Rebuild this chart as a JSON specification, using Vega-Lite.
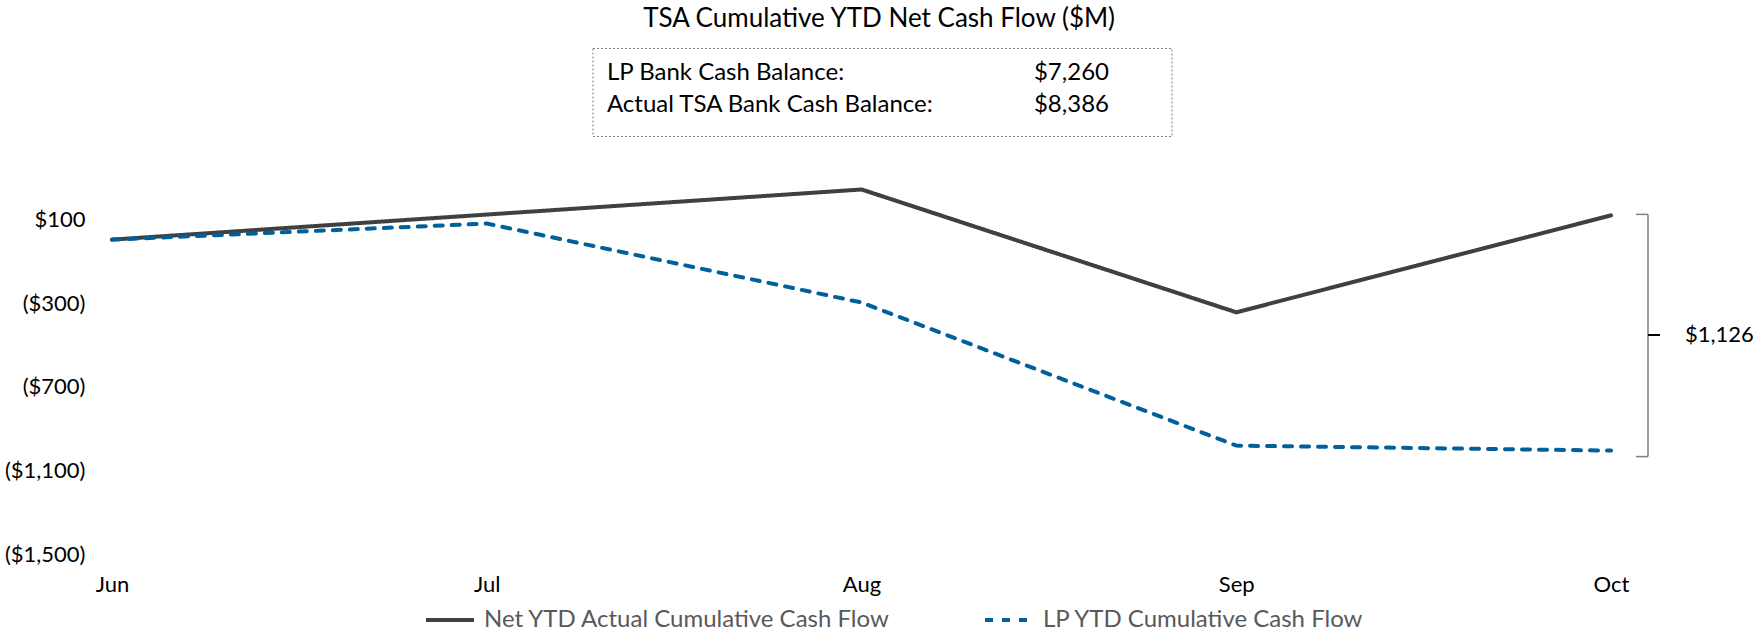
{
  "$schema": "https://vega.github.io/schema/vega-lite/v6.json",
  "background": "white",
  "padding": {"left": 4, "top": 5, "right": 0, "bottom": 0},
  "config": {
    "font": "Lato",
    "view": {"stroke": null},
    "text": {"font": "Lato"}
  },
  "title": {
    "text": "TSA Cumulative YTD Net Cash Flow ($M)",
    "font": "Lato",
    "fontSize": 26,
    "fontWeight": "normal",
    "color": "black",
    "anchor": "middle",
    "offset": 16
  },
  "center": true,
  "bounds": "flush",
  "spacing": 42,
  "resolve": {"legend": {"color": "independent", "strokeDash": "independent"}},
  "vconcat": [
    {
      "width": 579,
      "height": 88,
      "view": {"stroke": "#7f7f7f", "strokeDash": [2, 2], "strokeWidth": 1},
      "data": {
        "values": [
          {"label": "LP Bank Cash Balance:", "amount": 7260},
          {"label": "Actual TSA Bank Cash Balance:", "amount": 8386}
        ]
      },
      "layer": [
        {
          "mark": {"type": "text", "align": "left", "baseline": "middle", "fontSize": 24, "color": "black", "dy": -3},
          "encoding": {
            "x": {"datum": "name", "type": "nominal", "scale": {"type": "point", "domain": ["name", "amount"], "padding": 0.178, "align": 0.095}, "axis": null},
            "y": {"field": "label", "type": "nominal", "sort": null, "scale": {"type": "point", "padding": 0.858}, "axis": null},
            "text": {"field": "label", "type": "nominal"}
          }
        },
        {
          "mark": {"type": "text", "align": "left", "baseline": "middle", "fontSize": 24, "color": "black", "dy": -3},
          "encoding": {
            "x": {"datum": "amount", "type": "nominal", "axis": null},
            "y": {"field": "label", "type": "nominal", "sort": null, "axis": null},
            "text": {"field": "amount", "type": "quantitative", "format": "$,"}
          }
        }
      ]
    },
    {
      "width": 1540,
      "height": 376,
      "data": {
        "values": [
          {"month": "Jun", "series": "Net YTD Actual Cumulative Cash Flow", "value": 5},
          {"month": "Jul", "series": "Net YTD Actual Cumulative Cash Flow", "value": 125},
          {"month": "Aug", "series": "Net YTD Actual Cumulative Cash Flow", "value": 245},
          {"month": "Sep", "series": "Net YTD Actual Cumulative Cash Flow", "value": -343},
          {"month": "Oct", "series": "Net YTD Actual Cumulative Cash Flow", "value": 121},
          {"month": "Jun", "series": "LP YTD Cumulative Cash Flow", "value": 5},
          {"month": "Jul", "series": "LP YTD Cumulative Cash Flow", "value": 82},
          {"month": "Aug", "series": "LP YTD Cumulative Cash Flow", "value": -296},
          {"month": "Sep", "series": "LP YTD Cumulative Cash Flow", "value": -981},
          {"month": "Oct", "series": "LP YTD Cumulative Cash Flow", "value": -1005}
        ]
      },
      "layer": [
        {
          "mark": {"type": "line", "strokeWidth": 4, "strokeCap": "round", "strokeJoin": "miter"},
          "encoding": {
            "x": {
              "field": "month", "type": "ordinal", "title": null,
              "scale": {"type": "point", "padding": 0.0547, "align": 0, "domain": ["Jun", "Jul", "Aug", "Sep", "Oct"]},
              "axis": {"labelAngle": 0, "domain": false, "ticks": false, "tickSize": 0, "grid": false, "labelPadding": 20, "labelFontSize": 22, "labelColor": "black", "labelFont": "Lato"}
            },
            "y": {
              "field": "value", "type": "quantitative", "title": null,
              "scale": {"domain": [-1500, 300], "nice": false, "zero": false},
              "axis": {
                "values": [100, -300, -700, -1100, -1500],
                "labelExpr": "datum.value < 0 ? '($' + format(-datum.value, ',') + ')' : '$' + format(datum.value, ',')",
                "domain": false, "ticks": false, "tickSize": 0, "grid": false,
                "labelPadding": 27, "labelFontSize": 22, "labelColor": "black", "labelFont": "Lato"
              }
            },
            "color": {
              "field": "series", "type": "nominal",
              "scale": {"domain": ["Net YTD Actual Cumulative Cash Flow", "LP YTD Cumulative Cash Flow"], "range": ["#404040", "#00609C"]},
              "legend": {"orient": "none", "legendX": 312, "legendY": 416, "direction": "horizontal", "title": null, "symbolType": "stroke", "symbolSize": 2304, "symbolStrokeWidth": 4, "labelFontSize": 24, "labelColor": "#595959", "labelFont": "Lato", "labelLimit": 0, "columnPadding": 86, "labelOffset": 8, "padding": 0}
            },
            "strokeDash": {
              "field": "series", "type": "nominal",
              "scale": {"domain": ["Net YTD Actual Cumulative Cash Flow", "LP YTD Cumulative Cash Flow"], "range": [[1, 0], [8, 9]]},
              "legend": {"orient": "none", "legendX": 312, "legendY": 416, "direction": "horizontal", "title": null, "symbolType": "stroke", "symbolSize": 2304, "symbolStrokeWidth": 4, "labelFontSize": 24, "labelColor": "#595959", "labelFont": "Lato", "labelLimit": 0, "columnPadding": 86, "labelOffset": 8, "padding": 0}
            }
          }
        },
        {
          "transform": [
            {"filter": "datum.month === 'Oct'"},
            {"aggregate": [
              {"op": "max", "field": "value", "as": "hi"},
              {"op": "min", "field": "value", "as": "lo"},
              {"op": "mean", "field": "value", "as": "mid"}
            ], "groupby": ["month"]}
          ],
          "layer": [
            {
              "mark": {"type": "rule", "color": "#7f7f7f", "strokeWidth": 1.5, "xOffset": 37, "yOffset": -1, "y2Offset": 6},
              "encoding": {
                "x": {"field": "month", "type": "ordinal", "title": null},
                "y": {"field": "hi", "type": "quantitative", "title": null},
                "y2": {"field": "lo"}
              }
            },
            {
              "mark": {"type": "rule", "color": "#7f7f7f", "strokeWidth": 1.5, "xOffset": 25, "x2Offset": 37, "yOffset": -1},
              "encoding": {
                "x": {"field": "month", "type": "ordinal", "title": null},
                "x2": {"field": "month"},
                "y": {"field": "hi", "type": "quantitative", "title": null}
              }
            },
            {
              "mark": {"type": "rule", "color": "#7f7f7f", "strokeWidth": 1.5, "xOffset": 25, "x2Offset": 37, "yOffset": 6},
              "encoding": {
                "x": {"field": "month", "type": "ordinal", "title": null},
                "x2": {"field": "month"},
                "y": {"field": "lo", "type": "quantitative", "title": null}
              }
            },
            {
              "mark": {"type": "rule", "color": "black", "strokeWidth": 2, "xOffset": 37, "x2Offset": 49, "yOffset": 2},
              "encoding": {
                "x": {"field": "month", "type": "ordinal", "title": null},
                "x2": {"field": "month"},
                "y": {"field": "mid", "type": "quantitative", "title": null}
              }
            },
            {
              "mark": {"type": "text", "align": "left", "baseline": "middle", "fontSize": 22, "color": "black", "dx": 74, "dy": 2},
              "encoding": {
                "x": {"field": "month", "type": "ordinal", "title": null},
                "y": {"field": "mid", "type": "quantitative", "title": null},
                "text": {"value": "$1,126"}
              }
            }
          ]
        }
      ]
    }
  ]
}
